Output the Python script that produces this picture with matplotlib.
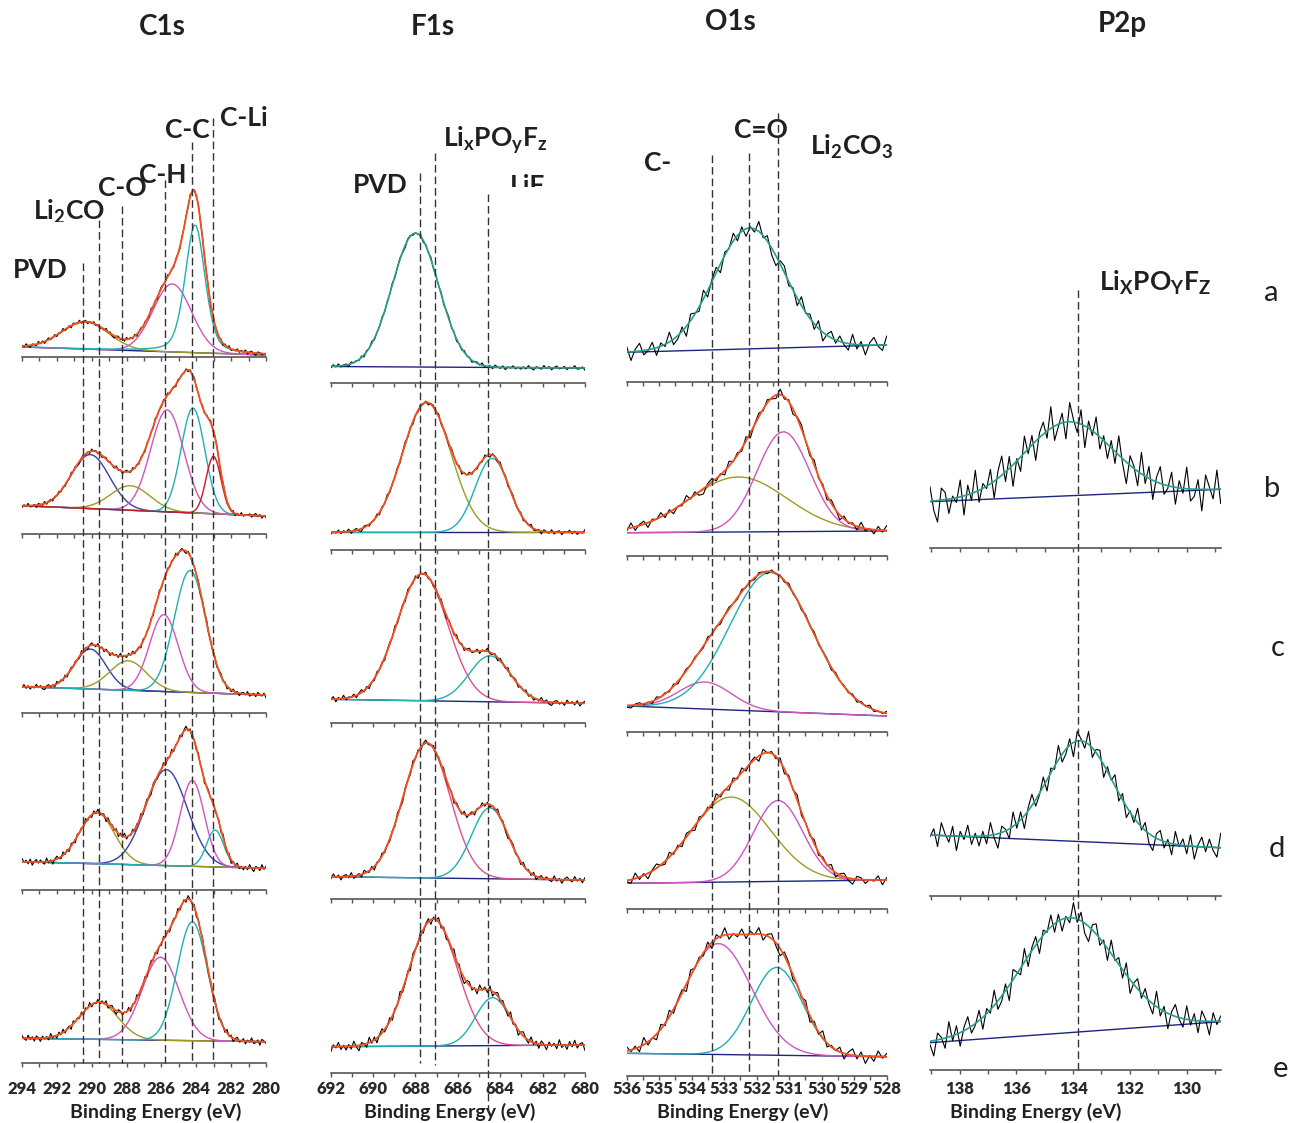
import numpy as np
import matplotlib
matplotlib.use("Agg")
import matplotlib.pyplot as plt  # noqa: E402
from matplotlib import transforms  # noqa: E402
from matplotlib.lines import Line2D  # noqa: E402
from matplotlib.transforms import Bbox, TransformedBbox  # noqa: E402

plt.rcParams["font.family"] = ["Lato", "DejaVu Sans"]
plt.rcParams["mathtext.fontset"] = "custom"
plt.rcParams["mathtext.rm"] = "Lato:bold"
plt.rcParams["mathtext.it"] = "Lato:bold"
plt.rcParams["mathtext.bf"] = "Lato:bold"

W, H = 1290, 1123
rows = ["a", "b", "c", "d", "e"]
titles = ["C1s", "F1s", "O1s", "P2p"]

# ---- data: intensity in arbitrary units (height above the panel axis) ----
# peaks: centre (eV), amplitude, sigma (eV), lorentzian fraction
c1s_base = [[10, 2], [28.3, 18], [26.3, 18], [28.3, 21.7], [24.7, 21.3]]
c1s_peaks = [
    [[290.37, 27, 1.35, 0], [285.38, 68, 1.1, 0], [284.07, 128, 0.57, 0.35]],
    [[290.08, 54, 1.1, 0], [287.78, 24.5, 1.14, 0], [285.67, 102, 0.95, 0],
     [284.19, 105, 0.68, 0], [283.01, 57.5, 0.43, 0]],
    [[290.08, 40, 0.9, 0], [287.91, 29.5, 1.06, 0], [285.86, 77, 0.82, 0],
     [284.36, 122, 0.9, 0]],
    [[289.7, 51, 1.0, 0], [285.72, 96, 1.2, 0], [284.23, 86, 0.69, 0],
     [282.92, 37, 0.49, 0]],
    [[289.6, 37, 1.1, 0], [286.05, 83, 1.06, 0], [284.23, 119, 0.86, 0]],
]
c1s_comp = [["olive", "magenta", "cyan"],
            ["blue", "olive", "magenta", "cyan", "red"],
            ["blue", "olive", "magenta", "cyan"],
            ["olive", "blue", "magenta", "cyan"],
            ["olive", "magenta", "cyan"]]
c1s_noise = [2.5, 2.5, 3, 4, 4]

f1s_base = [[16.5, 15], [17.7, 17.7], [23.7, 19.7], [22.3, 19], [26.3, 28]]
f1s_peaks = [
    [[688.0, 134, 1.1, 0]],
    [[687.47, 130, 1.15, 0], [684.38, 74, 0.8, 0]],
    [[687.68, 127, 1.2, 0], [684.49, 46, 0.97, 0]],
    [[687.47, 135, 1.1, 0], [684.49, 71, 0.87, 0]],
    [[687.16, 127, 1.14, 0], [684.36, 48, 0.8, 0]],
]
f1s_comp = [["teal"], ["olive", "cyan"], ["pink", "cyan"], ["pink", "cyan"], ["pink", "cyan"]]
f1s_noise = [2.5, 3, 3.5, 4, 6]

o1s_base = [[29.4, 36.7], [23.3, 25], [25.7, 15.7], [25.7, 29], [22.7, 19.3]]
o1s_peaks = [
    [[532.21, 121, 1.09, 0]],
    [[532.57, 55, 1.5, 0], [531.18, 100, 0.81, 0]],
    [[533.59, 27, 0.81, 0], [531.57, 139, 1.26, 0]],
    [[532.8, 85, 1.22, 0], [531.34, 81, 0.76, 0]],
    [[533.18, 111, 1.02, 0], [531.38, 88, 0.78, 0]],
]
o1s_comp = [["teal"], ["olive", "magenta"], ["magenta", "cyan"],
            ["olive", "magenta"], ["magenta", "cyan"]]
o1s_noise = [11, 6, 3, 6, 8]

p2p_base = [None, [46.3, 58.7], None, [61, 48.3], [27.3, 48.3]]
p2p_peaks = [None, [[134.16, 74, 1.55, 0]], None,
             [[133.75, 101, 1.15, 0]], [[134.16, 115, 1.65, 0]]]
p2p_comp = [None, ["teal"], None, ["teal"], ["teal"]]
p2p_noise = [0, 24, 0, 16, 17]

# reference positions (eV) of the dashed assignment lines
c1s_lines = [290.5, 289.57, 288.26, 285.8, 284.26, 283.04]
f1s_lines = [687.79, 687.1, 684.56]
o1s_lines = [533.38, 532.24, 531.36]
p2p_lines = [133.82]

c1s_ticks = [294, 292, 290, 288, 286, 284, 282, 280]
f1s_ticks = [692, 690, 688, 686, 684, 682, 680]
o1s_ticks = [536, 535, 534, 533, 532, 531, 530, 529, 528]
p2p_ticks = [138, 136, 134, 132, 130]

# hand-typed detector noise pattern (relative units)
noise = [0.3, -0.5, 0.8, -0.2, -0.9, 0.4, 0.1, -0.6, 0.9, -0.3,
         0.5, -0.8, 0.2, 0.7, -0.4, -0.1, 0.6, -0.7, 0.3, -0.2,
         0.9, -0.5, -0.3, 0.4, -0.9, 0.6, 0.1, -0.4, 0.8, -0.6,
         0.2, 0.5, -0.8, 0.3, -0.1, 0.7, -0.5, 0.4, -0.7, 0.1,
         -0.3, 0.9, -0.2, 0.5, -0.6, -0.9, 0.3, 0.6, -0.4, 0.2,
         -0.7, 0.8, -0.1, 0.4, -0.5, 0.7, -0.8, 0.1, 0.6, -0.3,
         0.5, -0.2, -0.6, 0.9, -0.4, 0.3, -0.9, 0.2, 0.7, -0.1,
         -0.5, 0.8, -0.3, 0.4, -0.7, 0.6, 0.1, -0.8, 0.5, -0.2,
         0.3, -0.6, 0.9, -0.4, 0.1, -0.7, 0.6, -0.3, 0.8, -0.5,
         0.2, 0.4, -0.9, 0.7, -0.1, 0.3, -0.4, 0.6, -0.8, 0.5,
         -0.2, 0.9, -0.6, 0.1, -0.3, 0.7, -0.5, 0.4, -0.1, 0.8,
         -0.7, 0.2, 0.6, -0.4, -0.9, 0.5, 0.3, -0.6, 0.1, -0.2,
         0.7, -0.8, 0.4, -0.3, 0.9, -0.5, 0.2, -0.1, 0.6, -0.7,
         0.3, 0.8, -0.4, 0.5, -0.9, 0.1, -0.6, 0.7, -0.2, 0.4,
         -0.8, 0.2, 0.5, -0.3, 0.9, -0.6, -0.1, 0.4, -0.7, 0.8,
         0.1, -0.4, 0.6, -0.9, 0.3, -0.2, 0.7, -0.5, 0.2, -0.6]

# ---- style / layout ----
colors = {"olive": "#a09a22", "blue": "#3340a8", "magenta": "#d054c0",
          "cyan": "#1fb0b2", "red": "#c8192b", "pink": "#dc4f92", "teal": "#26a08c"}
ENV = "#f4511e"
BASE = "#1c2580"
TXT = "#231f20"
AX = "#555555"

xlims = [(294, 280), (692, 680), (536, 528), (139.04, 128.8)]
npts = [120, 100, 62, 78]
col_px = [(22, 266), (330.7, 585), (626.7, 886.7), (930, 1220.7)]
axis_y = [[357, 534, 713, 890, 1063], [383, 550, 723, 899, 1073],
          [381.7, 556, 731.7, 909, 1076], [None, 548, None, 896, 1070]]
minor_step = [1, 1, 0.5, 1]
PH = 185

bases = [c1s_base, f1s_base, o1s_base, p2p_base]
peaks_all = [c1s_peaks, f1s_peaks, o1s_peaks, p2p_peaks]
comps_all = [c1s_comp, f1s_comp, o1s_comp, p2p_comp]
noise_all = [c1s_noise, f1s_noise, o1s_noise, p2p_noise]
ticks_all = [c1s_ticks, f1s_ticks, o1s_ticks, p2p_ticks]
lines_all = [c1s_lines, f1s_lines, o1s_lines, p2p_lines]
line_top = [[263, 220, 206, 180, 142, 118], [173, 153, 194], [155, 153, 113], [290]]
line_bot = [[1063] * 6, [1063, 1065, 1112], [1075, 1072, 1075], [1073]]

fig = plt.figure(figsize=(W / 100, H / 100), dpi=100)


def fy(y):
    return 1 - y / H


col_axes = []
for c in range(4):
    xl = xlims[c]
    x0, x1 = col_px[c]
    first = None
    for r in range(5):
        yb = axis_y[c][r]
        if yb is None:
            continue
        ax = fig.add_axes([x0 / W, fy(yb), (x1 - x0) / W, PH / H])
        ax.patch.set_visible(False)
        if first is None:
            first = ax
        x = np.linspace(xl[0], xl[1], npts[c])
        b0, b1 = bases[c][r]
        base = b0 + (b1 - b0) * (xl[0] - x) / (xl[0] - xl[1])
        env = base.copy()
        single = len(peaks_all[c][r]) == 1
        for (ce, a, s, eta), cname in zip(peaks_all[c][r], comps_all[c][r]):
            g = np.exp(-0.5 * ((x - ce) / s) ** 2)
            lo = 1 / (1 + ((x - ce) / (s * 1.1774)) ** 2)
            comp = a * ((1 - eta) * g + eta * lo)
            env = env + comp
            ax.plot(x, base + comp, color=colors[cname], lw=1.2 if single else 1.0,
                    zorder=5 if single else 3)
        ax.plot(x, base, color=BASE, lw=1.0, zorder=2)
        off = (17 * (c * 5 + r)) % len(noise)
        wig = np.roll(np.array(noise), -off)[:npts[c]] * noise_all[c][r]
        ax.plot(x, env + wig, color="black", lw=0.8, zorder=4)
        if not single:
            ax.plot(x, env, color=ENV, lw=1.3, zorder=5)
        ax.set_xlim(*xl)
        ax.set_ylim(0, PH)
        for s in ["top", "left", "right"]:
            ax.spines[s].set_visible(False)
        ax.spines["bottom"].set_color(AX)
        ax.spines["bottom"].set_linewidth(1.2)
        ax.set_yticks([])
        ax.set_xticks(ticks_all[c])
        lo_t, hi_t = min(xl), max(xl)
        ax.set_xticks(np.arange(np.ceil(lo_t), hi_t + 1e-6, minor_step[c]), minor=True)
        ax.tick_params(axis="x", which="both", direction="out", length=3.2,
                       width=1.0, color=AX)
        if r == 4:
            pad_px = 1085 - (yb + 4 + 4.5)
            ax.tick_params(axis="x", which="major", labelsize=12,
                           labelcolor="#2a2a2a", pad=max(pad_px * 0.72, 0))
            for t in ax.get_xticklabels():
                t.set_fontweight("heavy")
        else:
            ax.tick_params(axis="x", which="major", labelbottom=False)
    col_axes.append(first)

# dashed assignment lines spanning the column
for c in range(4):
    tr = transforms.blended_transform_factory(col_axes[c].transData, fig.transFigure)
    for e, yt, yb in zip(lines_all[c], line_top[c], line_bot[c]):
        fig.add_artist(Line2D([e, e], [fy(yt), fy(yb)], transform=tr, color="#333333",
                              lw=1.0, dashes=(5.5, 2.8), zorder=6))


def label(x, y, s, size=19, weight="bold", clip_below=None, **kw):
    t = fig.text(x / W, fy(y), s, ha="center", va="center", fontsize=size,
                 fontweight=weight, color=TXT, **kw)
    if clip_below is not None:
        t.set_clip_box(TransformedBbox(Bbox.from_extents(0, fy(clip_below), 1, 1),
                                       fig.transFigure))
        t.set_clip_on(True)
    return t


for s, x, y in zip(titles, [162, 433, 730, 1122], [27, 27, 22, 24]):
    label(x, y, s, size=20)
for x in [156, 450, 743, 1036]:
    label(x, 1112, "Binding Energy (eV)", size=14)

label(40, 270, "PVD")
label(69, 212, "Li$_2$CO", clip_below=222)
label(122, 188, "C-O")
label(163, 175, "C-H")
label(187, 130, "C-C")
label(244, 118, "C-Li")
label(380, 185, "PVD")
label(495, 140, "Li$_x$PO$_y$F$_z$")
label(527, 186, "LiF", clip_below=187)
label(658, 163, "C-")
label(761, 130, "C=O")
label(851, 147, "Li$_2$CO$_3$")
label(1155, 283, "Li$_X$PO$_Y$F$_Z$")

for s, x, y in zip(rows, [1271, 1272, 1278, 1277, 1281], [293, 489, 648, 849, 1069]):
    label(x, y, s, size=21, weight="normal")

fig.savefig("out.png", dpi=100)
